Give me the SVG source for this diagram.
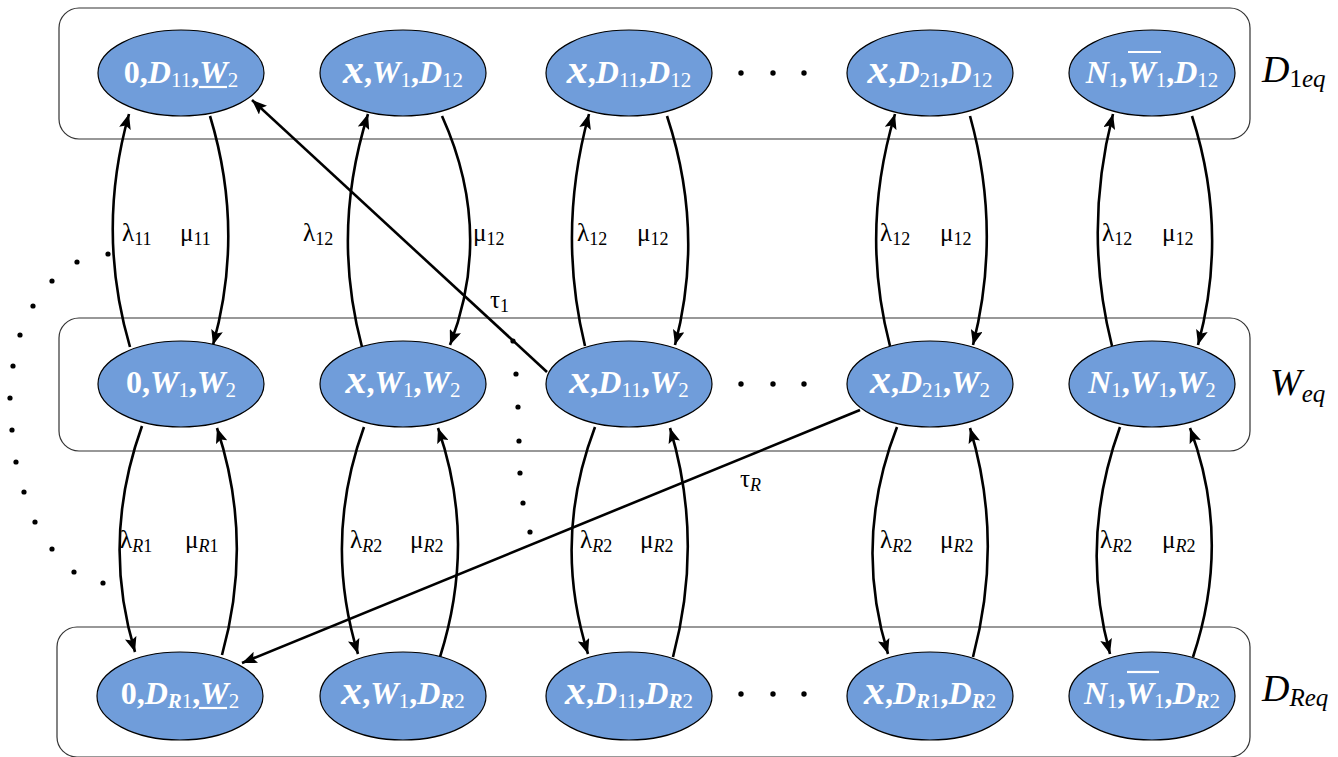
<svg xmlns="http://www.w3.org/2000/svg" width="1338" height="757" viewBox="0 0 1338 757">
<style>
.box{fill:none;stroke:#333;stroke-width:1.2}
.nd{fill:#709dda;stroke:#000;stroke-width:1.2}
.nt{font-family:'Liberation Serif','Times New Roman',Times,'DejaVu Serif',serif;font-size:32px;font-weight:bold;fill:#fff}
.i{font-style:italic}
.x{font-size:42px;font-style:italic}
.s{font-size:21px;font-weight:normal}
.sr{font-size:21px;font-style:italic}
.deco{stroke:#fff;stroke-width:2.2}
.ar{fill:none;stroke:#000;stroke-width:2.6}
.lb{font-family:'Liberation Serif','Times New Roman',Times,'DejaVu Serif',serif;font-size:25px;fill:#000}
.ls{font-size:18px}
.rl{font-family:'Liberation Serif','Times New Roman',Times,'DejaVu Serif',serif;font-size:38px;font-style:italic;fill:#000}
.rs{font-size:25px}
.dot{fill:#000}
</style>
<defs>
<marker id="ah" markerUnits="userSpaceOnUse" markerWidth="16" markerHeight="12" refX="15" refY="6" orient="auto">
<path d="M0,0 L15,6 L0,12 L3,6 z" fill="#000"/>
</marker>
</defs>
<g id="boxes">
<rect class="box" x="59" y="8" width="1191" height="131" rx="20"/>
<rect class="box" x="59" y="318" width="1191" height="133" rx="20"/>
<rect class="box" x="57" y="627" width="1193" height="130" rx="20"/>
</g>
<g id="row-labels">
<text class="rl" x="1262" y="82">D<tspan class="rs" dy="5"><tspan font-style="normal">1</tspan>eq</tspan></text>
<text class="rl" x="1270" y="395">W<tspan class="rs" dy="7">eq</tspan></text>
<text class="rl" x="1262" y="701">D<tspan class="rs" dy="5">Req</tspan></text>
</g>
<g id="connectors">
<path class="ar" marker-end="url(#ah)" d="M130,347 Q96,231 129,114"/>
<path class="ar" marker-end="url(#ah)" d="M210,116 Q245,231 213,345"/>
<path class="ar" marker-end="url(#ah)" d="M362,347 Q331,231 368,114"/>
<path class="ar" marker-end="url(#ah)" d="M442,116 Q494,231 450,345"/>
<path class="ar" marker-end="url(#ah)" d="M585,346 Q557,231 589,114"/>
<path class="ar" marker-end="url(#ah)" d="M667,116 Q705,231 675,345"/>
<path class="ar" marker-end="url(#ah)" d="M890,346 Q860,231 895,114"/>
<path class="ar" marker-end="url(#ah)" d="M970,116 Q1002,231 973,345"/>
<path class="ar" marker-end="url(#ah)" d="M1112,346 Q1083,231 1113,114"/>
<path class="ar" marker-end="url(#ah)" d="M1192,116 Q1229,231 1198,345"/>
<path class="ar" marker-end="url(#ah)" d="M142,426 Q101,540 135,652"/>
<path class="ar" marker-end="url(#ah)" d="M222,655 Q254,540 217,428"/>
<path class="ar" marker-end="url(#ah)" d="M364,427 Q323,540 358,654"/>
<path class="ar" marker-end="url(#ah)" d="M440,657 Q477,540 438,428"/>
<path class="ar" marker-end="url(#ah)" d="M595,427 Q552,540 588,654"/>
<path class="ar" marker-end="url(#ah)" d="M673,657 Q704,540 670,428"/>
<path class="ar" marker-end="url(#ah)" d="M897,427 Q853,540 888,654"/>
<path class="ar" marker-end="url(#ah)" d="M973,657 Q1004,540 970,428"/>
<path class="ar" marker-end="url(#ah)" d="M1120,427 Q1079,540 1110,654"/>
<path class="ar" marker-end="url(#ah)" d="M1193,657 Q1232,540 1190,428"/>
<path class="ar" marker-end="url(#ah)" d="M547,372 L252,100"/>
<path class="ar" marker-end="url(#ah)" d="M860,410 L242,663"/>
</g>
<g id="edge-labels">
<text class="lb" x="122" y="241">λ<tspan class="ls" dy="4">11</tspan></text>
<text class="lb" x="180" y="241">μ<tspan class="ls" dy="4">11</tspan></text>
<text class="lb" x="303" y="241">λ<tspan class="ls" dy="4">12</tspan></text>
<text class="lb" x="473" y="241">μ<tspan class="ls" dy="4">12</tspan></text>
<text class="lb" x="577" y="241">λ<tspan class="ls" dy="4">12</tspan></text>
<text class="lb" x="637" y="241">μ<tspan class="ls" dy="4">12</tspan></text>
<text class="lb" x="880" y="241">λ<tspan class="ls" dy="4">12</tspan></text>
<text class="lb" x="940" y="241">μ<tspan class="ls" dy="4">12</tspan></text>
<text class="lb" x="1102" y="241">λ<tspan class="ls" dy="4">12</tspan></text>
<text class="lb" x="1162" y="241">μ<tspan class="ls" dy="4">12</tspan></text>
<text class="lb" x="120" y="548">λ<tspan class="ls" dy="4"><tspan font-style="italic">R</tspan>1</tspan></text>
<text class="lb" x="185" y="548">μ<tspan class="ls" dy="4"><tspan font-style="italic">R</tspan>1</tspan></text>
<text class="lb" x="350" y="548">λ<tspan class="ls" dy="4"><tspan font-style="italic">R</tspan>2</tspan></text>
<text class="lb" x="410" y="548">μ<tspan class="ls" dy="4"><tspan font-style="italic">R</tspan>2</tspan></text>
<text class="lb" x="580" y="548">λ<tspan class="ls" dy="4"><tspan font-style="italic">R</tspan>2</tspan></text>
<text class="lb" x="640" y="548">μ<tspan class="ls" dy="4"><tspan font-style="italic">R</tspan>2</tspan></text>
<text class="lb" x="880" y="548">λ<tspan class="ls" dy="4"><tspan font-style="italic">R</tspan>2</tspan></text>
<text class="lb" x="940" y="548">μ<tspan class="ls" dy="4"><tspan font-style="italic">R</tspan>2</tspan></text>
<text class="lb" x="1100" y="548">λ<tspan class="ls" dy="4"><tspan font-style="italic">R</tspan>2</tspan></text>
<text class="lb" x="1162" y="548">μ<tspan class="ls" dy="4"><tspan font-style="italic">R</tspan>2</tspan></text>
<text class="lb" x="490" y="308">τ<tspan class="ls" dy="4">1</tspan></text>
<text class="lb" x="740" y="487">τ<tspan class="ls" dy="4" font-style="italic">R</tspan></text>
</g>
<g id="ellipsis-dots">
<circle class="dot" cx="741" cy="73" r="2.7"/><circle class="dot" cx="773" cy="73" r="2.7"/><circle class="dot" cx="804" cy="73" r="2.7"/>
<circle class="dot" cx="741" cy="384" r="2.7"/><circle class="dot" cx="773" cy="384" r="2.7"/><circle class="dot" cx="804" cy="384" r="2.7"/>
<circle class="dot" cx="741" cy="694" r="2.7"/><circle class="dot" cx="773" cy="694" r="2.7"/><circle class="dot" cx="804" cy="694" r="2.7"/>
</g>
<g id="dotted-arc-left">
<circle class="dot" cx="108" cy="254" r="2.6"/><circle class="dot" cx="77" cy="262" r="2.6"/><circle class="dot" cx="52" cy="281" r="2.6"/><circle class="dot" cx="33" cy="306" r="2.6"/><circle class="dot" cx="20" cy="335" r="2.6"/><circle class="dot" cx="13" cy="366" r="2.6"/><circle class="dot" cx="10" cy="398" r="2.6"/><circle class="dot" cx="12" cy="430" r="2.6"/><circle class="dot" cx="16" cy="462" r="2.6"/><circle class="dot" cx="24" cy="492" r="2.6"/><circle class="dot" cx="35" cy="522" r="2.6"/><circle class="dot" cx="52" cy="549" r="2.6"/><circle class="dot" cx="74" cy="572" r="2.6"/><circle class="dot" cx="103" cy="583" r="2.6"/>
</g>
<g id="dotted-arc-mid">
<circle class="dot" cx="513" cy="341" r="2.6"/><circle class="dot" cx="516" cy="374" r="2.6"/><circle class="dot" cx="518" cy="407" r="2.6"/><circle class="dot" cx="519" cy="441" r="2.6"/><circle class="dot" cx="520" cy="473" r="2.6"/><circle class="dot" cx="523" cy="503" r="2.6"/><circle class="dot" cx="530" cy="532" r="2.6"/>
</g>
<g id="n-0-D11-W2"><ellipse class="nd" cx="181" cy="73" rx="83" ry="43"/><text class="nt" x="181" y="83" text-anchor="middle">0,<tspan class="i">D</tspan><tspan class="s" dy="4">11</tspan><tspan dy="-4">,</tspan><tspan class="i">W</tspan><tspan class="s" dy="4">2</tspan></text><line class="deco" x1="199" y1="87" x2="227" y2="87"/></g>
<g id="n-x-W1-D12"><ellipse class="nd" cx="403" cy="73" rx="83" ry="43"/><text class="nt" x="403" y="83" text-anchor="middle"><tspan class="x">x</tspan>,<tspan class="i">W</tspan><tspan class="s" dy="4">1</tspan><tspan dy="-4">,</tspan><tspan class="i">D</tspan><tspan class="s" dy="4">12</tspan></text></g>
<g id="n-x-D11-D12"><ellipse class="nd" cx="629" cy="73" rx="83" ry="43"/><text class="nt" x="629" y="83" text-anchor="middle"><tspan class="x">x</tspan>,<tspan class="i">D</tspan><tspan class="s" dy="4">11</tspan><tspan dy="-4">,</tspan><tspan class="i">D</tspan><tspan class="s" dy="4">12</tspan></text></g>
<g id="n-x-D21-D12"><ellipse class="nd" cx="930" cy="73" rx="83" ry="43"/><text class="nt" x="930" y="83" text-anchor="middle"><tspan class="x">x</tspan>,<tspan class="i">D</tspan><tspan class="s" dy="4">21</tspan><tspan dy="-4">,</tspan><tspan class="i">D</tspan><tspan class="s" dy="4">12</tspan></text></g>
<g id="n-N1-W1bar-D12"><ellipse class="nd" cx="1152" cy="73" rx="83" ry="43"/><text class="nt" x="1152" y="83" text-anchor="middle"><tspan class="i">N</tspan><tspan class="s" dy="4">1</tspan><tspan dy="-4">,</tspan><tspan class="i">W</tspan><tspan class="s" dy="4">1</tspan><tspan dy="-4">,</tspan><tspan class="i">D</tspan><tspan class="s" dy="4">12</tspan></text><line class="deco" x1="1128" y1="52" x2="1161" y2="52"/></g>
<g id="n-0-W1-W2"><ellipse class="nd" cx="181" cy="384" rx="83" ry="43"/><text class="nt" x="181" y="393" text-anchor="middle">0,<tspan class="i">W</tspan><tspan class="s" dy="4">1</tspan><tspan dy="-4">,</tspan><tspan class="i">W</tspan><tspan class="s" dy="4">2</tspan></text></g>
<g id="n-x-W1-W2"><ellipse class="nd" cx="403" cy="384" rx="83" ry="43"/><text class="nt" x="403" y="393" text-anchor="middle"><tspan class="x">x</tspan>,<tspan class="i">W</tspan><tspan class="s" dy="4">1</tspan><tspan dy="-4">,</tspan><tspan class="i">W</tspan><tspan class="s" dy="4">2</tspan></text></g>
<g id="n-x-D11-W2"><ellipse class="nd" cx="629" cy="384" rx="83" ry="43"/><text class="nt" x="629" y="393" text-anchor="middle"><tspan class="x">x</tspan>,<tspan class="i">D</tspan><tspan class="s" dy="4">11</tspan><tspan dy="-4">,</tspan><tspan class="i">W</tspan><tspan class="s" dy="4">2</tspan></text></g>
<g id="n-x-D21-W2"><ellipse class="nd" cx="930" cy="384" rx="83" ry="43"/><text class="nt" x="930" y="393" text-anchor="middle"><tspan class="x">x</tspan>,<tspan class="i">D</tspan><tspan class="s" dy="4">21</tspan><tspan dy="-4">,</tspan><tspan class="i">W</tspan><tspan class="s" dy="4">2</tspan></text></g>
<g id="n-N1-W1-W2"><ellipse class="nd" cx="1152" cy="384" rx="83" ry="43"/><text class="nt" x="1152" y="393" text-anchor="middle"><tspan class="i">N</tspan><tspan class="s" dy="4">1</tspan><tspan dy="-4">,</tspan><tspan class="i">W</tspan><tspan class="s" dy="4">1</tspan><tspan dy="-4">,</tspan><tspan class="i">W</tspan><tspan class="s" dy="4">2</tspan></text></g>
<g id="n-0-DR1-W2"><ellipse class="nd" cx="180" cy="696" rx="83" ry="44"/><text class="nt" x="180" y="704" text-anchor="middle">0,<tspan class="i">D</tspan><tspan class="sr" dy="4">R</tspan><tspan class="s">1</tspan><tspan dy="-4">,</tspan><tspan class="i">W</tspan><tspan class="s" dy="4">2</tspan></text><line class="deco" x1="199" y1="708" x2="227" y2="708"/></g>
<g id="n-x-W1-DR2"><ellipse class="nd" cx="403" cy="696" rx="83" ry="44"/><text class="nt" x="403" y="704" text-anchor="middle"><tspan class="x">x</tspan>,<tspan class="i">W</tspan><tspan class="s" dy="4">1</tspan><tspan dy="-4">,</tspan><tspan class="i">D</tspan><tspan class="sr" dy="4">R</tspan><tspan class="s">2</tspan></text></g>
<g id="n-x-D11-DR2"><ellipse class="nd" cx="629" cy="696" rx="83" ry="44"/><text class="nt" x="629" y="704" text-anchor="middle"><tspan class="x">x</tspan>,<tspan class="i">D</tspan><tspan class="s" dy="4">11</tspan><tspan dy="-4">,</tspan><tspan class="i">D</tspan><tspan class="sr" dy="4">R</tspan><tspan class="s">2</tspan></text></g>
<g id="n-x-DR1-DR2"><ellipse class="nd" cx="930" cy="696" rx="83" ry="44"/><text class="nt" x="930" y="704" text-anchor="middle"><tspan class="x">x</tspan>,<tspan class="i">D</tspan><tspan class="sr" dy="4">R</tspan><tspan class="s">1</tspan><tspan dy="-4">,</tspan><tspan class="i">D</tspan><tspan class="sr" dy="4">R</tspan><tspan class="s">2</tspan></text></g>
<g id="n-N1-W1bar-DR2"><ellipse class="nd" cx="1152" cy="696" rx="83" ry="44"/><text class="nt" x="1152" y="704" text-anchor="middle"><tspan class="i">N</tspan><tspan class="s" dy="4">1</tspan><tspan dy="-4">,</tspan><tspan class="i">W</tspan><tspan class="s" dy="4">1</tspan><tspan dy="-4">,</tspan><tspan class="i">D</tspan><tspan class="sr" dy="4">R</tspan><tspan class="s">2</tspan></text><line class="deco" x1="1127" y1="672" x2="1159" y2="672"/></g>
</svg>
